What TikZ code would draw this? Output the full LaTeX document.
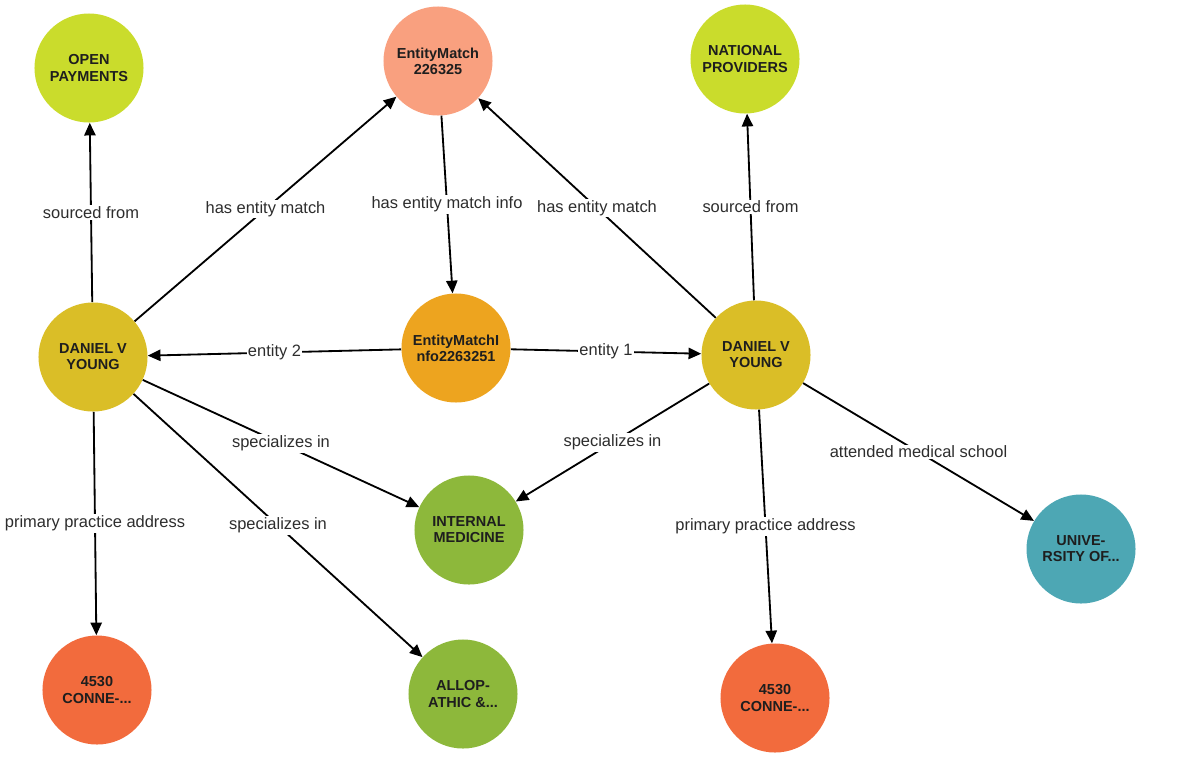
\documentclass[tikz,border=0pt]{standalone}
\usepackage{fontspec}
\setmainfont{Liberation Sans}
\usetikzlibrary{arrows.meta}
\definecolor{srcgreen}{RGB}{202,220,44}
\definecolor{emsalmon}{RGB}{249,160,127}
\definecolor{emiorange}{RGB}{237,164,31}
\definecolor{persongold}{RGB}{218,190,39}
\definecolor{specgreen}{RGB}{141,184,59}
\definecolor{uniteal}{RGB}{77,167,180}
\definecolor{addrred}{RGB}{242,107,61}
\definecolor{nodetext}{RGB}{30,30,30}
\definecolor{labeltext}{RGB}{45,45,45}
\tikzset{
  ent/.style={circle, draw=none, minimum size=2.725cm, inner sep=0pt, align=center,
    text=nodetext, font=\bfseries\fontsize{10.3}{11.4}\selectfont},
  rel/.style={draw=black, line width=1.3pt, -{Triangle[length=9pt,width=8pt]}},
  lbl/.style={fill=white, inner sep=1pt, text=labeltext, font=\fontsize{11.7}{13}\selectfont}
}
\begin{document}
\begin{tikzpicture}[x=0.025cm, y=-0.025cm]
\useasboundingbox (0,0) rectangle (1200,770);
\node[ent, fill=srcgreen] (op) at (89,68) {OPEN\\PAYMENTS};
\node[ent, fill=emsalmon] (em) at (438,61) {EntityMatch\\226325};
\node[ent, fill=srcgreen] (np) at (745,59) {NATIONAL\\PROVIDERS};
\node[ent, fill=persongold] (dl) at (93,357) {DANIEL V\\YOUNG};
\node[ent, fill=emiorange] (emi) at (456,348) {EntityMatchI\\nfo2263251};
\node[ent, fill=persongold] (dr) at (756,355) {DANIEL V\\YOUNG};
\node[ent, fill=specgreen] (im) at (469,530) {INTERNAL\\MEDICINE};
\node[ent, fill=specgreen] (al) at (463,694) {ALLOP-\\ATHIC \&...};
\node[ent, fill=addrred] (adl) at (97,690) {4530\\CONNE-...};
\node[ent, fill=uniteal] (uni) at (1081,549) {UNIVE-\\RSITY OF...};
\node[ent, fill=addrred] (adr) at (775,698) {4530\\CONNE-...};

\draw[rel] (dl) -- node[lbl, midway] {sourced from} (op);
\draw[rel] (dl) -- node[lbl, midway] {has entity match} (em);
\draw[rel] (em) -- node[lbl, midway] {has entity match info} (emi);
\draw[rel] (dr) -- node[lbl, midway] {has entity match} (em);
\draw[rel] (dr) -- node[lbl, midway] {sourced from} (np);
\draw[rel] (emi) -- node[lbl, midway] {entity 2} (dl);
\draw[rel] (emi) -- node[lbl, midway] {entity 1} (dr);
\draw[rel] (dl) -- node[lbl, midway] {specializes in} (im);
\draw[rel] (dl) -- node[lbl, midway] {specializes in} (al);
\draw[rel] (dl) -- node[lbl, midway] {primary practice address} (adl);
\draw[rel] (dr) -- node[lbl, midway] {specializes in} (im);
\draw[rel] (dr) -- node[lbl, midway] {primary practice address} (adr);
\draw[rel] (dr) -- node[lbl, midway] {attended medical school} (uni);
\end{tikzpicture}
\end{document}
